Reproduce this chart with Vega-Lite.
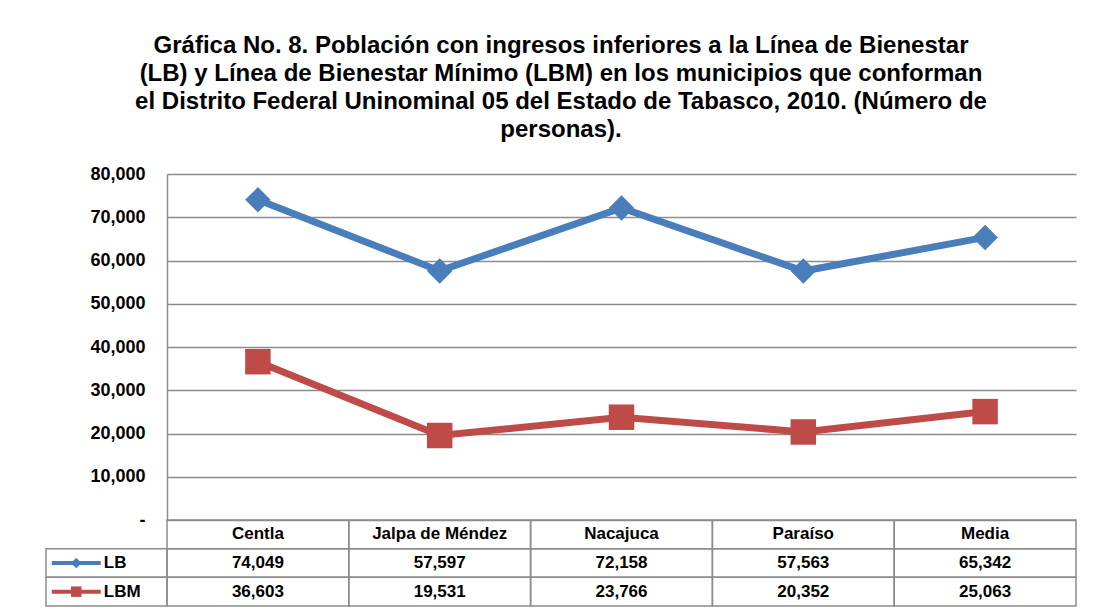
{
  "$schema": "https://vega.github.io/schema/vega-lite/v6.json",
  "padding": {"left": 45, "top": 34, "right": 18, "bottom": 8},
  "background": "white",
  "title": {
    "text": [
      "Gráfica No. 8. Población con ingresos inferiores a la Línea de Bienestar",
      "(LB) y Línea de Bienestar Mínimo (LBM) en los municipios que conforman",
      "el Distrito Federal Uninominal 05 del Estado de Tabasco, 2010. (Número de",
      "personas)."
    ],
    "font": "Liberation Sans", "fontSize": 24, "fontWeight": "bold", "lineHeight": 28,
    "anchor": "middle", "offset": 23, "color": "black"
  },
  "datasets": {
    "datos": [
      {"municipio": "Centla", "serie": "LB", "valor": 74049},
      {"municipio": "Jalpa de Méndez", "serie": "LB", "valor": 57597},
      {"municipio": "Nacajuca", "serie": "LB", "valor": 72158},
      {"municipio": "Paraíso", "serie": "LB", "valor": 57563},
      {"municipio": "Media", "serie": "LB", "valor": 65342},
      {"municipio": "Centla", "serie": "LBM", "valor": 36603},
      {"municipio": "Jalpa de Méndez", "serie": "LBM", "valor": 19531},
      {"municipio": "Nacajuca", "serie": "LBM", "valor": 23766},
      {"municipio": "Paraíso", "serie": "LBM", "valor": 20352},
      {"municipio": "Media", "serie": "LBM", "valor": 25063}
    ]
  },
  "columns": 2,
  "spacing": 0,
  "bounds": "flush",
  "resolve": {"scale": {"x": "independent", "y": "independent", "color": "independent", "shape": "independent"}},
  "concat": [
    {"width": 121, "height": 346, "data": {"values": []}, "mark": "point", "encoding": {}},
    {
      "width": 909, "height": 346,
      "data": {"name": "datos"},
      "encoding": {
        "x": {"field": "municipio", "type": "nominal", "sort": ["Centla", "Jalpa de Méndez", "Nacajuca", "Paraíso", "Media"], "axis": null, "scale": {"type": "point", "padding": 0.5}},
        "y": {"field": "valor", "type": "quantitative", "scale": {"domain": [0, 80000]},
          "axis": {"title": null, "values": [0, 10000, 20000, 30000, 40000, 50000, 60000, 70000, 80000],
            "labelExpr": "datum.value == 0 ? '-     ' : format(datum.value, ',')",
            "labelFontSize": 18, "labelFontWeight": "bold", "labelColor": "black", "labelPadding": 22,
            "ticks": false, "grid": true, "gridColor": "#8c8c8c", "gridWidth": 1.3,
            "domainColor": "#8c8c8c", "domainWidth": 1.5}},
        "color": {"field": "serie", "type": "nominal", "scale": {"domain": ["LB", "LBM"], "range": ["#4A7EBB", "#BE4B48"]}, "legend": null}
      },
      "layer": [
        {"mark": {"type": "line", "strokeWidth": 7}},
        {"mark": {"type": "point", "filled": true, "opacity": 1, "size": 650},
          "encoding": {"shape": {"field": "serie", "type": "nominal", "scale": {"domain": ["LB", "LBM"], "range": ["diamond", "square"]}, "legend": null}}}
      ]
    },
    {
      "width": 121, "height": 86,
      "data": {"name": "datos"},
      "transform": [{"filter": "datum.municipio == 'Centla'"}],
      "encoding": {
        "y": {"field": "serie", "type": "nominal", "scale": {"domain": ["h", "LB", "LBM"], "paddingInner": 0, "paddingOuter": 0}, "axis": null}
      },
      "layer": [
        {"mark": {"type": "rect", "fillOpacity": 0, "stroke": "#8c8c8c", "strokeWidth": 1.5}},
        {"mark": {"type": "tick", "orient": "horizontal", "size": 49, "thickness": 4, "opacity": 1},
          "encoding": {
            "x": {"datum": "sym", "type": "nominal", "scale": {"type": "band", "domain": ["sym", "lab"], "paddingInner": 0, "paddingOuter": 0}, "axis": null},
            "color": {"field": "serie", "type": "nominal", "scale": {"domain": ["LB", "LBM"], "range": ["#4A7EBB", "#BE4B48"]}, "legend": null}}},
        {"mark": {"type": "point", "filled": true, "opacity": 1, "size": 110},
          "encoding": {
            "x": {"datum": "sym", "type": "nominal"},
            "color": {"field": "serie", "type": "nominal", "legend": null},
            "shape": {"field": "serie", "type": "nominal", "scale": {"domain": ["LB", "LBM"], "range": ["diamond", "square"]}, "legend": null}}},
        {"mark": {"type": "text", "align": "left", "dx": -33, "fontWeight": "bold", "fontSize": 17, "color": "black"},
          "encoding": {"x": {"datum": "lab", "type": "nominal"}, "text": {"field": "serie"}}}
      ]
    },
    {
      "width": 909, "height": 86,
      "data": {"name": "datos"},
      "encoding": {
        "x": {"field": "municipio", "type": "nominal", "sort": ["Centla", "Jalpa de Méndez", "Nacajuca", "Paraíso", "Media"], "scale": {"type": "band", "paddingInner": 0, "paddingOuter": 0}, "axis": null}
      },
      "layer": [
        {"mark": {"type": "rect", "fillOpacity": 0, "stroke": "#8c8c8c", "strokeWidth": 1.5},
          "encoding": {"y": {"field": "serie", "type": "nominal", "scale": {"domain": ["h", "LB", "LBM"], "paddingInner": 0, "paddingOuter": 0}, "axis": null}}},
        {"transform": [{"filter": "datum.serie == 'LB'"}],
          "mark": {"type": "rect", "fillOpacity": 0, "stroke": "#8c8c8c", "strokeWidth": 1.5},
          "encoding": {"y": {"datum": "h", "type": "nominal"}}},
        {"mark": {"type": "text", "fontWeight": "bold", "fontSize": 17, "color": "black"},
          "encoding": {"y": {"field": "serie", "type": "nominal"}, "text": {"field": "valor", "type": "quantitative", "format": ","}}},
        {"transform": [{"filter": "datum.serie == 'LB'"}],
          "mark": {"type": "text", "fontWeight": "bold", "fontSize": 17, "color": "black"},
          "encoding": {"y": {"datum": "h", "type": "nominal"}, "text": {"field": "municipio"}}}
      ]
    }
  ],
  "config": {"view": {"stroke": null}, "font": "Liberation Sans"}
}
